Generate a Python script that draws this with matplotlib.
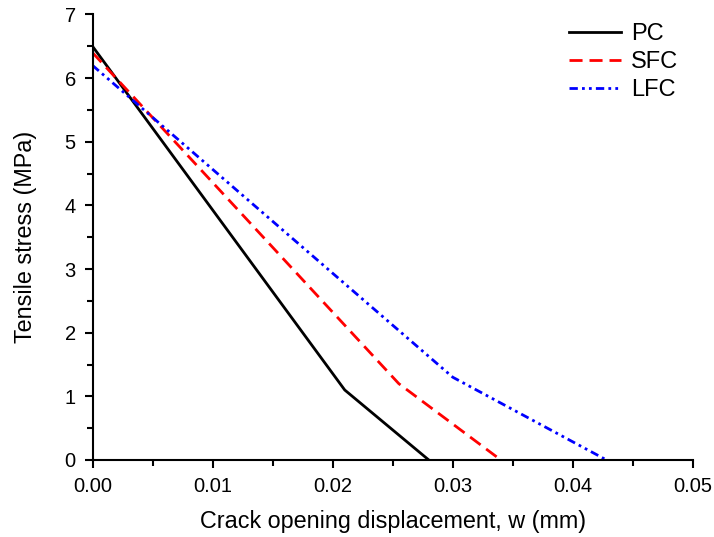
import matplotlib
matplotlib.use("Agg")
import matplotlib.pyplot as plt
from matplotlib.ticker import MultipleLocator

plt.rcParams['font.family'] = ['Liberation Sans', 'DejaVu Sans']

# crack opening displacement (mm) vs tensile stress (MPa)
pc_w = [0.0, 0.021, 0.028]
pc_s = [6.5, 1.1, 0.0]
sfc_w = [0.0, 0.0255, 0.034]
sfc_s = [6.4, 1.2, 0.0]
lfc_w = [0.0, 0.030, 0.0428]
lfc_s = [6.2, 1.3, 0.0]

x_ticks = [0.00, 0.01, 0.02, 0.03, 0.04, 0.05]
y_ticks = [0, 1, 2, 3, 4, 5, 6, 7]

fig = plt.figure(figsize=(7.14, 5.37), dpi=100)
ax = fig.add_axes([0.1296, 0.1434, 0.8410, 0.8296])

ax.plot(pc_w, pc_s, color='black', lw=2, label='PC')
ax.plot(sfc_w, sfc_s, color='red', lw=2, dashes=(4.7, 2.5), label='SFC')
ax.plot(lfc_w, lfc_s, color='blue', lw=2, dashes=(3, 1.5, 1, 1.5, 1, 1.5), label='LFC')

ax.set_xlim(0, 0.05)
ax.set_ylim(0, 7)
ax.set_xticks(x_ticks)
ax.set_xticklabels(['%.2f' % v for v in x_ticks])
ax.set_yticks(y_ticks)
ax.xaxis.set_minor_locator(MultipleLocator(0.005))
ax.yaxis.set_minor_locator(MultipleLocator(0.5))

ax.spines['top'].set_visible(False)
ax.spines['right'].set_visible(False)
for sp in ['left', 'bottom']:
    ax.spines[sp].set_linewidth(1.5)
ax.tick_params(which='major', direction='out', length=6, width=1.5, labelsize=14.5, pad=6)
ax.tick_params(which='minor', direction='out', length=4, width=1.5)

ax.set_xlabel('Crack opening displacement, w (mm)', fontsize=16.8, labelpad=10)
ax.set_ylabel('Tensile stress (MPa)', fontsize=16.8, labelpad=20)

ax.legend(loc='upper right', frameon=False, fontsize=17, handlelength=2.2,
          handletextpad=0.4, labelspacing=0.25, bbox_to_anchor=(1.01, 1.028))

fig.savefig('out.png', dpi=100)
